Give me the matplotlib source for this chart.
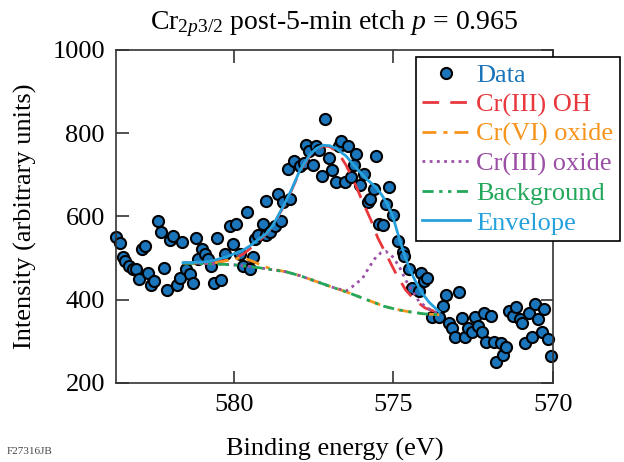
import matplotlib
matplotlib.use("Agg")
import matplotlib.pyplot as plt
import numpy as np

plt.rcParams['font.family'] = ['Liberation Serif', 'DejaVu Serif']
plt.rcParams['mathtext.fontset'] = 'custom'
plt.rcParams['mathtext.rm'] = 'Liberation Serif'
plt.rcParams['mathtext.it'] = 'Liberation Serif:italic'

# measured points (binding energy in eV, intensity)
data_be = [583.69, 583.56, 583.48, 583.41, 583.27, 583.17, 583.06, 582.96, 582.89, 582.78,
           582.68, 582.61, 582.49, 582.37, 582.29, 582.19, 582.09, 582.00, 581.90, 581.79,
           581.69, 581.61, 581.50, 581.38, 581.29, 581.20, 581.12, 581.01, 580.91, 580.81,
           580.70, 580.62, 580.52, 580.39, 580.28, 580.13, 580.02, 579.92, 579.81, 579.71,
           579.60, 579.50, 579.40, 579.35, 579.24, 579.10, 579.00, 578.98, 578.86, 578.72,
           578.62, 578.51, 578.46, 578.31, 578.25, 578.10, 577.94, 577.81, 577.73, 577.63,
           577.52, 577.42, 577.33, 577.23, 577.13, 577.02, 576.92, 576.81, 576.71, 576.64,
           576.50, 576.43, 576.32, 576.22, 576.16, 576.04, 575.91, 575.80, 575.73, 575.62,
           575.54, 575.46, 575.33, 575.23, 575.15, 575.02, 574.84, 574.71, 574.66, 574.52,
           574.40, 574.21, 574.14, 574.03, 573.96, 573.79, 573.56, 573.44, 573.34, 573.25,
           573.17, 573.06, 572.94, 572.84, 572.75, 572.65, 572.54, 572.44, 572.36, 572.23,
           572.16, 572.09, 571.95, 571.85, 571.77, 571.64, 571.56, 571.46, 571.36, 571.25,
           571.17, 571.04, 570.96, 570.88, 570.75, 570.65, 570.56, 570.46, 570.35, 570.28,
           570.15, 570.07]
data_int = [550, 537, 503, 494, 481, 473, 473, 449, 523, 529,
            465, 435, 446, 590, 563, 477, 423, 543, 553, 435,
            453, 539, 474, 462, 441, 549, 497, 523, 510, 499,
            481, 441, 549, 447, 511, 578, 535, 582, 511, 482,
            610, 474, 503, 547, 555, 582, 638, 555, 563, 577,
            654, 590, 635, 715, 643, 734, 721, 729, 771, 758,
            724, 770, 760, 696, 834, 741, 712, 683, 770, 781,
            682, 770, 695, 724, 749, 675, 703, 634, 643, 667,
            745, 583, 579, 629, 670, 603, 541, 515, 504, 473,
            427, 422, 465, 446, 451, 359, 358, 385, 411, 345,
            331, 310, 419, 355, 311, 331, 323, 359, 337, 323,
            369, 299, 361, 299, 251, 295, 267, 287, 374, 361,
            382, 353, 343, 297, 369, 311, 390, 353, 323, 377,
            305, 265]

# fit curves
env_be = [581.59, 581.06, 580.75, 580.23, 579.71, 579.50, 579.19, 578.98, 578.77, 578.46,
          578.20, 577.94, 577.63, 577.42, 577.21, 577.00, 576.79, 576.48, 576.19, 575.86,
          575.54, 575.34, 575.19, 575.02, 574.81, 574.66, 574.50, 574.31, 574.09, 573.88,
          573.67, 573.56]
env_int = [489, 490, 492, 503, 519, 529, 547, 559, 579, 623,
           663, 709, 747, 763, 771, 770, 763, 745, 719, 691,
           670, 649, 630, 601, 546, 510, 475, 445, 415, 394,
           379, 371]

oh_be = [581.59, 580.75, 580.02, 579.66, 579.29, 578.98, 578.77, 578.46, 578.20, 577.94,
         577.63, 577.42, 577.21, 577.00, 576.79, 576.66, 576.48, 576.17, 575.96, 575.70,
         575.49, 575.23, 574.92, 574.61, 574.31, 574.00, 573.56]
oh_int = [489, 490, 496, 512, 536, 558, 578, 621, 661, 707,
          745, 761, 769, 768, 757, 745, 723, 673, 635, 591,
          549, 510, 463, 423, 398, 380, 368]

bg_be = [581.59, 580.66, 580.03, 579.40, 578.88, 578.36, 577.94, 577.53, 576.91, 576.48,
         576.07, 575.66, 575.28, 574.92, 574.50, 574.03, 573.56]
bg_int = [488, 486, 484, 479, 473, 467, 458, 447, 430, 419,
          407, 395, 384, 377, 371, 366, 364]

vi_be = [581.59, 580.66, 580.38, 580.07, 579.81, 579.56, 579.31, 579.03, 578.69, 578.36,
         577.94, 577.53, 576.91, 576.48, 576.07, 575.66, 575.28, 574.92, 574.50, 574.03,
         573.56]
vi_int = [488, 488, 491, 497, 500, 497, 489, 479, 472, 467,
          458, 447, 430, 419, 407, 395, 384, 377, 371, 366,
          364]

ox_be = [581.59, 580.66, 580.03, 579.40, 578.88, 578.36, 577.94, 577.53, 576.91, 576.48,
         576.22, 575.96, 575.76, 575.54, 575.38, 575.23, 575.02, 574.81, 574.61, 574.40,
         574.19, 573.88, 573.56]
ox_int = [489, 486, 484, 479, 473, 467, 458, 447, 430, 421,
          435, 452, 478, 503, 513, 516, 503, 479, 447, 421,
          395, 378, 366]

c_data = '#1b75bb'
c_oh = '#e8383d'
c_vi = '#f7941d'
c_ox = '#9b4fa5'
c_bg = '#22a75b'
c_env = '#27a1dc'

fig = plt.figure(figsize=(6.24, 4.62), dpi=100)
ax = fig.add_axes([0.186, 0.171, 0.700, 0.721])

ax.plot(data_be, data_int, linestyle='none', marker='o', markersize=8,
        markerfacecolor=c_data, markeredgecolor='black', markeredgewidth=1.5,
        color=c_data, label='Data', clip_on=False, zorder=2)
ax.plot(oh_be, oh_int, color=c_oh, lw=2, dashes=(6, 4), label='Cr(III) OH', zorder=3)
ax.plot(vi_be, vi_int, color=c_vi, lw=2, dashes=(5, 2.5, 1.5, 2.5), label='Cr(VI) oxide', zorder=3)
ax.plot(ox_be, ox_int, color=c_ox, lw=2, dashes=(1, 1.6), label='Cr(III) oxide', zorder=3)
ax.plot(bg_be, bg_int, color=c_bg, lw=2, dashes=(4, 2, 1.2, 2, 1.2, 2), label='Background', zorder=3)
ax.plot(env_be, env_int, color=c_env, lw=2, label='Envelope', zorder=4)

ax.set_xlim(583.69, 570)
ax.set_ylim(200, 1000)
ax.set_xticks([580, 575, 570])
ax.set_yticks([200, 400, 600, 800, 1000])
ax.tick_params(direction='in', length=9, width=1.2, top=True, right=True,
               labelsize=19, pad=8, colors='#333333', labelcolor='black')
for s in ax.spines.values():
    s.set_linewidth(1.2)
    s.set_color('#333333')

ax.set_xlabel('Binding energy (eV)', fontsize=19, labelpad=16)
ax.set_ylabel('Intensity (arbitrary units)', fontsize=19, labelpad=11)
ax.set_title(r'Cr$_{\mathrm{2}p\mathrm{3/2}}$ post-5-min etch $p$ = 0.965', fontsize=20, pad=15)

leg = ax.legend(loc='upper left', bbox_to_anchor=(0.686, 0.979), fontsize=19,
                frameon=True, fancybox=False, edgecolor='black', framealpha=1,
                handlelength=1.8, handletextpad=0.25, labelspacing=0.22,
                borderpad=0.25, borderaxespad=0, labelcolor='linecolor')
leg.get_frame().set_linewidth(1.2)
leg.set_zorder(5)

fig.text(0.01, 0.012, 'F27316JB', fontsize=8, color='#444444', va='bottom')

fig.savefig('out.png', dpi=100)
